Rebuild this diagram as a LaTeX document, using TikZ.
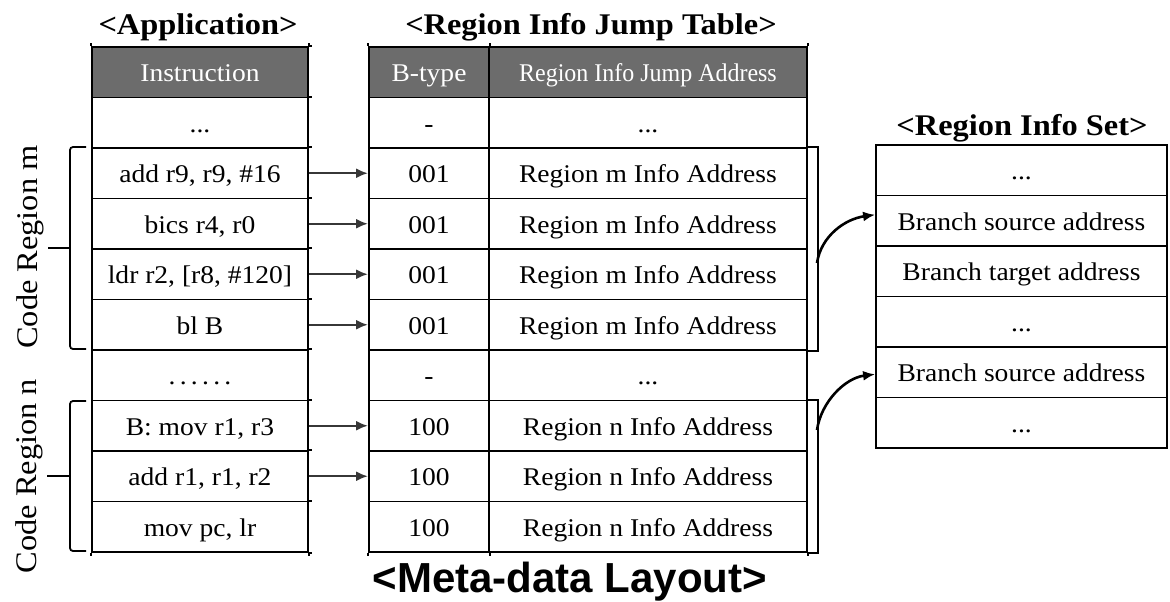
\documentclass[tikz,border=0pt]{standalone}
\usepackage{fontspec}
\setmainfont{Liberation Serif}[FakeStretch=1.08]
\newfontfamily\hdnarrow{Liberation Serif}[FakeStretch=0.94]
\newfontfamily\capsans{Liberation Sans}
\usetikzlibrary{arrows.meta}
\definecolor{hdrgray}{RGB}{108,108,108}
\definecolor{arrgray}{RGB}{55,55,55}
\begin{document}
\begin{tikzpicture}[x=1pt,y=-1pt,
  cell/.style={draw, line width=1.8pt, minimum height=50.5pt, inner sep=0pt,
    text height=19pt, text depth=0pt, font=\fontsize{25.5}{28}\selectfont},
  hdr/.style={cell, fill=hdrgray, text=white},
  appcell/.style={cell, minimum width=216pt},
  btcell/.style={cell, minimum width=120pt},
  adcell/.style={cell, minimum width=318pt},
  setcell/.style={cell, minimum width=291pt},
  title/.style={anchor=base, font=\fontsize{30}{32}\selectfont\bfseries},
  side/.style={rotate=90, font=\fontsize{30}{32}\selectfont},
  link/.style={draw=arrgray, line width=2.4pt, -{Latex[length=12pt,width=10pt]}},
  curv/.style={draw, line width=2.6pt, -{Latex[length=12pt,width=10pt]}},
  brace/.style={draw, line width=1.8pt, rounded corners=3pt},
  bracket/.style={draw, line width=1.8pt},
  tick/.style={draw, line width=1.8pt}]
\useasboundingbox (0,0) rectangle (1170,602);

% titles
\node[title] (tapp) at (198,35) {<Application>};
\node[title] (tjmp) at (591,35) {<Region Info Jump Table>};
\node[title] (tset) at (1022,135) {<Region Info Set>};
\node[anchor=base, font=\capsans\fontsize{42}{44}\selectfont\bfseries] (tlay) at (570,592) {<Meta-data Layout>};

% application table
\node[appcell, hdr] (app0) at (200,72.25)  {Instruction};
\node[appcell] (app1) at (200,122.75) {...};
\node[appcell] (app2) at (200,173.25) {add r9, r9, \#16};
\node[appcell] (app3) at (200,223.75) {bics r4, r0};
\node[appcell] (app4) at (200,274.25) {ldr r2, [r8, \#120]};
\node[appcell] (app5) at (200,324.75) {bl B};
\node[appcell] (app6) at (200,375.25) {.\,.\,.\,.\,.\,.};
\node[appcell] (app7) at (200,425.75) {B: mov r1, r3};
\node[appcell] (app8) at (200,476.25) {add r1, r1, r2};
\node[appcell] (app9) at (200,526.75) {mov pc, lr};

% jump table: branch type column
\node[btcell, hdr] (bt0) at (429,72.25)  {B-type};
\node[btcell] (bt1) at (429,122.75) {-};
\node[btcell] (bt2) at (429,173.25) {001};
\node[btcell] (bt3) at (429,223.75) {001};
\node[btcell] (bt4) at (429,274.25) {001};
\node[btcell] (bt5) at (429,324.75) {001};
\node[btcell] (bt6) at (429,375.25) {-};
\node[btcell] (bt7) at (429,425.75) {100};
\node[btcell] (bt8) at (429,476.25) {100};
\node[btcell] (bt9) at (429,526.75) {100};

% jump table: address column
\node[adcell, hdr, font=\hdnarrow\fontsize{25.5}{28}\selectfont] (ad0) at (648,72.25) {Region Info Jump Address};
\node[adcell] (ad1) at (648,122.75) {...};
\node[adcell] (ad2) at (648,173.25) {Region m Info Address};
\node[adcell] (ad3) at (648,223.75) {Region m Info Address};
\node[adcell] (ad4) at (648,274.25) {Region m Info Address};
\node[adcell] (ad5) at (648,324.75) {Region m Info Address};
\node[adcell] (ad6) at (648,375.25) {...};
\node[adcell] (ad7) at (648,425.75) {Region n Info Address};
\node[adcell] (ad8) at (648,476.25) {Region n Info Address};
\node[adcell] (ad9) at (648,526.75) {Region n Info Address};

% region info set
\node[setcell] (set1) at (1021.5,170.25) {...};
\node[setcell] (set2) at (1021.5,220.75) {Branch source address};
\node[setcell] (set3) at (1021.5,271.25) {Branch target address};
\node[setcell] (set4) at (1021.5,321.75) {...};
\node[setcell] (set5) at (1021.5,372.25) {Branch source address};
\node[setcell] (set6) at (1021.5,422.75) {...};

% small overhangs of the table rules
\foreach \i in {0,...,9} {
  \draw[tick] (app\i.north east) -- ++(3.5,0);
}
\draw[tick] (app9.south east) -- ++(3.5,0);
\foreach \n in {app9.south west, app9.south east, bt9.south west, bt9.south east, ad9.south east} {
  \draw[tick] (\n) -- ++(0,3.5);
}
\foreach \n in {app0.north west, app0.north east, bt0.north west, bt0.north east, ad0.north east} {
  \draw[tick] (\n) -- ++(0,-3);
}

% instruction -> jump table entries
\draw[link] (app2.east) -- (bt2.west);
\draw[link] (app3.east) -- (bt3.west);
\draw[link] (app4.east) -- (bt4.west);
\draw[link] (app5.east) -- (bt5.west);
\draw[link] (app7.east) -- (bt7.west);
\draw[link] (app8.east) -- (bt8.west);

% code region braces
\coordinate (bmt) at (86,147);
\coordinate (bmb) at (86,349);
\coordinate (bmm) at (70,248);
\coordinate (bml) at (48,248);
\draw[brace] (bmt) -- (70,147) -- (70,349) -- (bmb);
\draw[bracket] (bmm) -- (bml);
\node[side] (crm) at (30,247) {Code Region m};

\coordinate (bnt) at (86,401);
\coordinate (bnb) at (86,551);
\coordinate (bnm) at (70,476);
\coordinate (bnl) at (47,476);
\draw[brace] (bnt) -- (70,401) -- (70,551) -- (bnb);
\draw[bracket] (bnm) -- (bnl);
\node[side] (crn) at (29,476) {Code Region n};

% jump address groups -> region info set
\draw[bracket] (ad2.north east) -- ++(10,0) |- (ad5.south east);
\draw[bracket] (ad7.north east) -- ++(10,0) |- (ad9.south east);
\coordinate (jm) at (817,263);
\coordinate (jn) at (817,430);
\draw[curv] (jm) .. controls (821,236) and (845,219) .. ([yshift=6pt]set2.west);
\draw[curv] (jn) .. controls (821,402) and (845,378) .. ([yshift=-2pt]set5.west);
\end{tikzpicture}
\end{document}
